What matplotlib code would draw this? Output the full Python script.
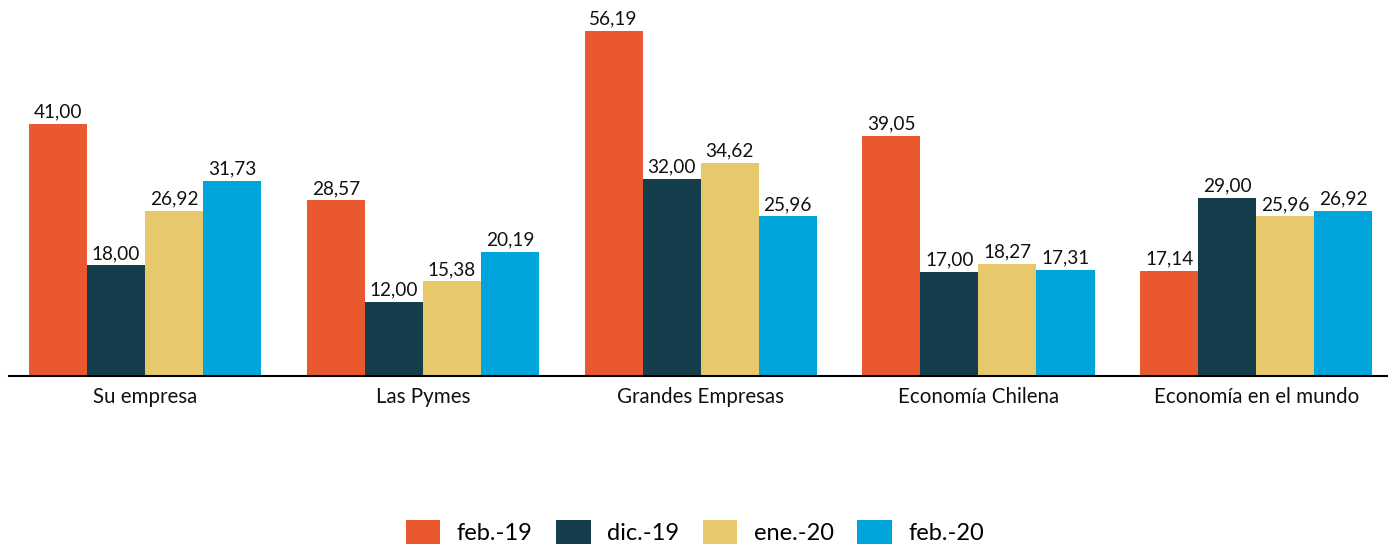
import numpy as np
import matplotlib.pyplot as plt
from matplotlib.patches import Patch

# data
categories = ['Su empresa', 'Las Pymes', 'Grandes Empresas', 'Economía Chilena', 'Economía en el mundo']
series = ['feb.-19', 'dic.-19', 'ene.-20', 'feb.-20']
feb19 = [41.00, 28.57, 56.19, 39.05, 17.14]
dic19 = [18.00, 12.00, 32.00, 17.00, 29.00]
ene20 = [26.92, 15.38, 34.62, 18.27, 25.96]
feb20 = [31.73, 20.19, 25.96, 17.31, 26.92]
colors = ['#E9582F', '#143E4C', '#E7C86D', '#00A5DC']

plt.rcParams['font.family'] = ['Lato', 'DejaVu Sans']

fig = plt.figure(figsize=(13.9, 5.46), dpi=100)
ax = fig.add_axes([9/1390, 1-376/546, 1378/1390, 376/546])

x = np.arange(len(categories))
w = 0.209
values = [feb19, dic19, ene20, feb20]
for i, vals in enumerate(values):
	pos = x + (i - 1.5) * w
	bars = ax.bar(pos, vals, width=w, color=colors[i], label=series[i])
	for b, v in zip(bars, vals):
		ax.annotate(('%.2f' % v).replace('.', ','), (b.get_x() + b.get_width()/2, v),
			xytext=(0, 2.5), textcoords='offset points', ha='center', va='bottom',
			fontsize=13.7, color='#111111')

ax.set_xlim(-0.49, 4.471)
ax.set_ylim(0, 61.18)
ax.set_xticks(x)
ax.set_xticklabels(categories, fontsize=14.8, color='#111111')
ax.tick_params(axis='x', length=0, pad=8)
ax.set_yticks([])
for s in ['top', 'right', 'left']:
	ax.spines[s].set_visible(False)
ax.spines['bottom'].set_linewidth(1.5)
ax.spines['bottom'].set_color('#000000')

handles = [Patch(facecolor=c, edgecolor='none') for c in colors]
fig.legend(handles, series, loc='center', bbox_to_anchor=(0.5, 1-532/546), ncol=4,
	frameon=False, fontsize=17, handlelength=1.45, handleheight=1.2,
	columnspacing=1.0, handletextpad=0.7)

fig.savefig('out.png', dpi=100)
